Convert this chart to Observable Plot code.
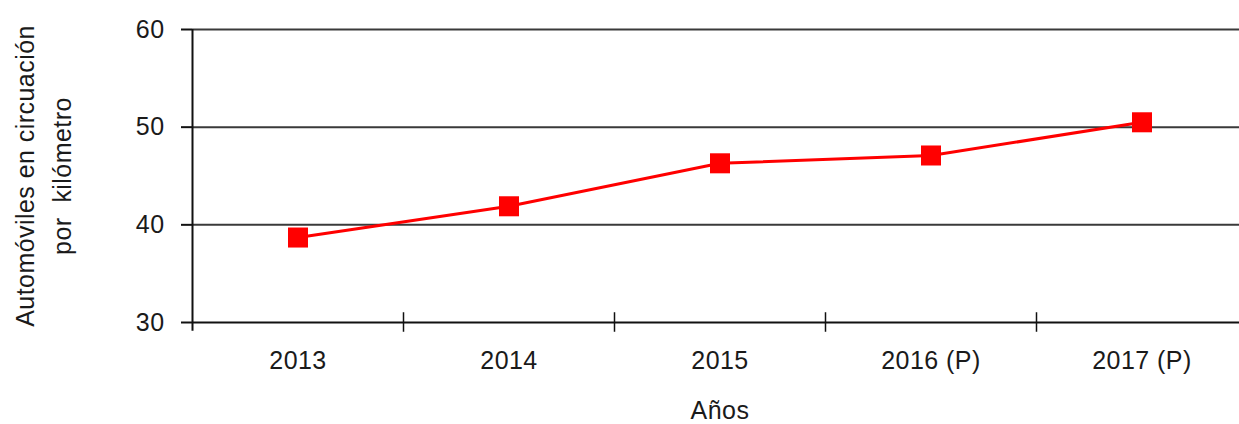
<!DOCTYPE html>
<html>
<head>
<meta charset="utf-8">
<script src="https://cdn.jsdelivr.net/npm/d3@7"></script>
<script src="https://cdn.jsdelivr.net/npm/@observablehq/plot@0.6"></script>
<style>
  html, body { margin: 0; padding: 0; background: #fff; overflow: hidden; }
  #chart svg { display: block; }
  #chart svg text { letter-spacing: 0.45px; }
</style>
</head>
<body>
<div id="chart"></div>
<script>
const categories = ["2013", "2014", "2015", "2016 (P)", "2017 (P)"];
const values = [38.7, 41.9, 46.3, 47.1, 50.5];
const yTicks = [30, 40, 50, 60];
const yLabelLines = ["Automóviles en circuación", "por  kilómetro"];
const xLabel = "Años";

const data = categories.map((c, i) => ({cat: c, pos: i + 0.5, value: values[i]}));
const centers = categories.map((c, i) => i + 0.5);
const bounds = d3.range(categories.length + 1);

const FS = 25;
const chart = Plot.plot({
  width: 1239,
  height: 424,
  marginLeft: 192,
  marginRight: 0,
  marginTop: 29,
  marginBottom: 102,
  style: {fontFamily: "'Liberation Sans', Arial, sans-serif", fontSize: FS + "px", color: "#1a1a1a", background: "#fff"},
  x: {domain: [0, categories.length], range: [192, 1247]},
  y: {domain: [30, 60], range: [322, 29]},
  marks: [
    Plot.ruleY(yTicks.filter(d => d > 30), {stroke: "#3a3a3a", strokeWidth: 2}),
    Plot.ruleY([30], {stroke: "#111", strokeWidth: 2}),
    Plot.ruleX([0], {y1: 60, y2: 29.1, stroke: "#111", strokeWidth: 2}),
    Plot.ruleX(bounds.slice(1), {y1: 31, y2: 29, stroke: "#111", strokeWidth: 1.5}),
    Plot.axisY(yTicks, {tickSize: 11, tickPadding: 17, fontSize: FS, stroke: "#111", strokeWidth: 2, fill: "#1a1a1a", label: null}),
    Plot.axisX(centers, {tickSize: 0, tickPadding: 29, fontSize: FS, fill: "#1a1a1a", tickFormat: d => categories[Math.round(d - 0.5)], label: null}),
    Plot.text([xLabel], {x: 2.5, y: 30, dy: 88, text: d => d, fontSize: FS, fill: "#1a1a1a"}),
    Plot.text([yLabelLines[0]], {x: 0, y: 45, dx: -167, rotate: -90, text: d => d, fontSize: FS, fill: "#1a1a1a"}),
    Plot.text([yLabelLines[1]], {x: 0, y: 45, dx: -130, rotate: -90, text: d => d, fontSize: FS, fill: "#1a1a1a"}),
    Plot.line(data, {x: "pos", y: "value", stroke: "#ff0000", strokeWidth: 3}),
    Plot.dot(data, {x: "pos", y: "value", symbol: "square", r: 11.3, fill: "#ff0000", stroke: "none"})
  ]
});
document.getElementById("chart").appendChild(chart);
</script>
</body>
</html>
